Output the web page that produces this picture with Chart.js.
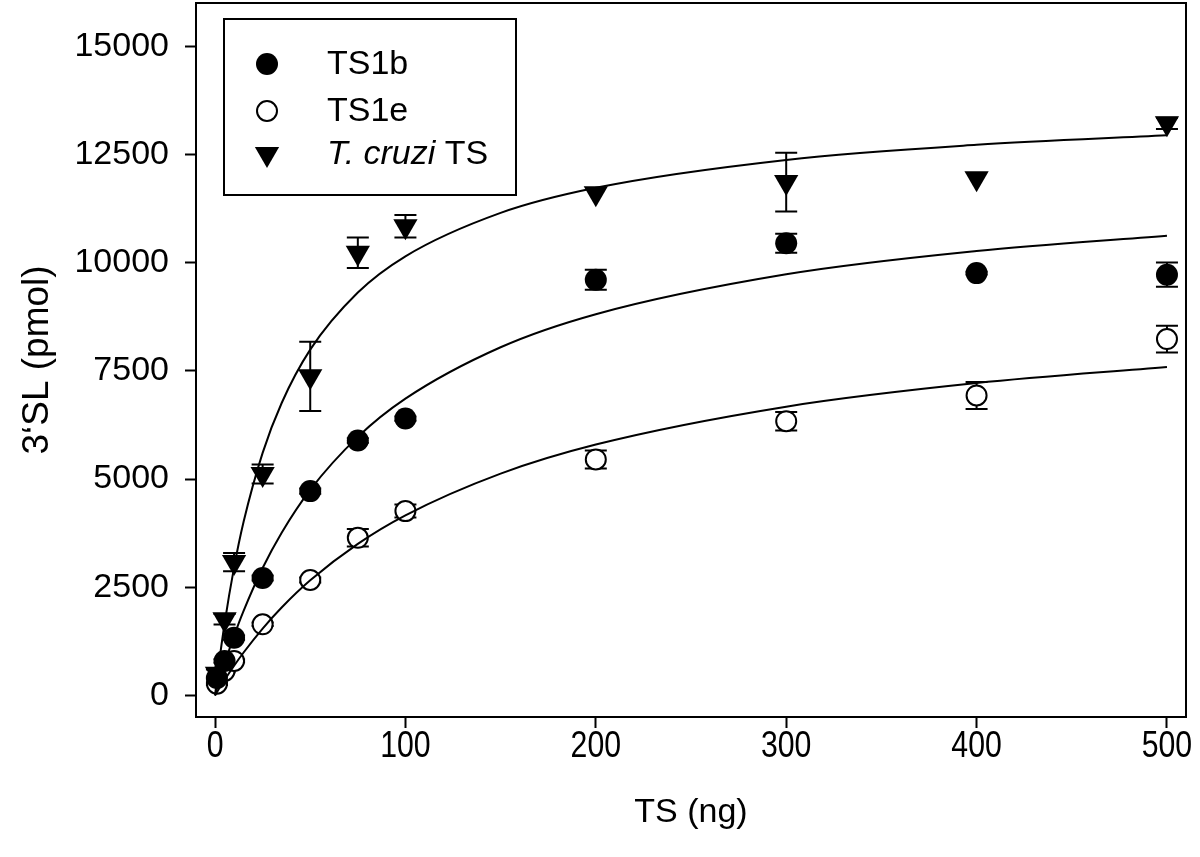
<!DOCTYPE html>
<html>
<head>
<meta charset="utf-8">
<script src="https://cdn.jsdelivr.net/npm/chart.js@4.4.0/dist/chart.umd.min.js"></script>
<style>
  html, body { margin: 0; padding: 0; background: #fff; overflow: hidden; }
  /* Chart.js keeps a fixed gap above the plot; pull the canvas up to close it */
  #chart { display: block; margin-top: -11px; }
</style>
</head>
<body>
<canvas id="chart" width="1200" height="868"></canvas>
<script>
// measured points (TS in ng, 3'SL in pmol)
const doses = [1, 5, 10, 25, 50, 75, 100, 200, 300, 400, 500];
const ts1b = [400, 796, 1334, 2712, 4720, 5890, 6397, 9605, 10450, 9758, 9721];
const ts1bErr = [30, 40, 50, 60, 60, 50, 50, 230, 220, 30, 280];
const ts1e = [270, 565, 796, 1643, 2666, 3642, 4258, 5451, 6335, 6930, 8234];
const ts1eErr = [30, 30, 30, 40, 60, 200, 150, 210, 215, 310, 310];
const cruzi = [500, 1759, 3081, 5116, 7374, 10228, 10842, 11604, 11862, 11950, 13219];
const cruziErr = [100, 120, 210, 220, 800, 350, 260, 0, 680, 0, 130];

// fitted curves
const fitX = [0, 2, 5, 10, 15, 25, 35, 50, 75, 100, 150, 200, 300, 400, 500];
const ts1bFit = [0, 302, 728, 1374, 1952, 2943, 3760, 4750, 5973, 6856, 8044, 8808, 9731, 10269, 10622];
const ts1eFit = [0, 145, 355, 684, 991, 1544, 2031, 2659, 3502, 4161, 5125, 5797, 6672, 7217, 7588];
const cruziFit = [0, 713, 1655, 2957, 4010, 5605, 6757, 7989, 9308, 10146, 11150, 11730, 12374, 12723, 12942];

const xTicks = [0, 100, 200, 300, 400, 500];
const yTicks = [0, 2500, 5000, 7500, 10000, 12500, 15000];

const FONT = "'Liberation Sans', Arial, sans-serif";
const pts = (xs, ys) => xs.map((x, i) => ({ x, y: ys[i] }));

function fitLine(data) {
  return {
    type: "line",
    data: pts(fitX, data),
    borderColor: "#000",
    borderWidth: 2,
    pointRadius: 0,
    fill: false,
    cubicInterpolationMode: "monotone",
    order: 0
  };
}

// error bars behind the markers
const errorBars = {
  id: "errorBars",
  beforeDatasetsDraw(chart) {
    const { ctx } = chart;
    const y = chart.scales.y;
    ctx.save();
    ctx.strokeStyle = "#000";
    ctx.lineWidth = 2;
    chart.data.datasets.forEach((ds, i) => {
      if (!ds.errors) return;
      chart.getDatasetMeta(i).data.forEach((el, j) => {
        const v = ds.data[j].y, e = ds.errors[j];
        if (!e) return;
        const top = y.getPixelForValue(v + e), bot = y.getPixelForValue(v - e);
        ctx.beginPath();
        ctx.moveTo(el.x, top); ctx.lineTo(el.x, bot);
        ctx.moveTo(el.x - 11, top); ctx.lineTo(el.x + 11, top);
        ctx.moveTo(el.x - 11, bot); ctx.lineTo(el.x + 11, bot);
        ctx.stroke();
      });
    });
    ctx.restore();
  }
};

function marker(ctx, style, x, y) {
  ctx.beginPath();
  if (style === "triangle") {
    const r = 14;
    ctx.moveTo(x, y + r);
    ctx.lineTo(x - r * 0.866, y - r / 2);
    ctx.lineTo(x + r * 0.866, y - r / 2);
    ctx.closePath();
    ctx.fillStyle = "#000";
    ctx.fill();
  } else if (style === "open") {
    ctx.arc(x, y, 10, 0, Math.PI * 2);
    ctx.fillStyle = "#fff";
    ctx.fill();
    ctx.lineWidth = 2;
    ctx.stroke();
  } else {
    ctx.arc(x, y, 11, 0, Math.PI * 2);
    ctx.fillStyle = "#000";
    ctx.fill();
  }
}

// frame, narrow x tick labels and the boxed legend
const frameAndLegend = {
  id: "frameAndLegend",
  afterDraw(chart) {
    const { ctx, chartArea: a } = chart;
    ctx.save();
    ctx.strokeStyle = "#000";
    ctx.lineWidth = 2;
    ctx.strokeRect(a.left, a.top, a.right - a.left, a.bottom - a.top);

    const xs = chart.scales.x;
    ctx.fillStyle = "#000";
    ctx.font = "36px " + FONT;
    ctx.textAlign = "center";
    ctx.textBaseline = "middle";
    xs.ticks.forEach(t => {
      ctx.save();
      ctx.translate(xs.getPixelForValue(t.value), a.bottom + 30);
      ctx.scale(0.84, 1);
      ctx.fillText(String(t.value), 0, 0);
      ctx.restore();
    });
    ctx.textAlign = "left";

    const bx = a.left + 28, by = a.top + 16;
    ctx.strokeRect(bx, by, 292, 176);
    const rows = [45, 92, 135];
    let r = 0;
    chart.data.datasets.forEach(ds => {
      if (!ds.legendMarker) return;
      const yy = by + rows[r++];
      marker(ctx, ds.legendMarker, bx + 43, yy);
      ctx.fillStyle = "#000";
      let tx = bx + 103;
      let rest = ds.label;
      if (ds.italicPrefix) {
        ctx.font = "italic 34px " + FONT;
        ctx.fillText(ds.italicPrefix, tx, yy + 1);
        tx += ctx.measureText(ds.italicPrefix).width;
        rest = ds.label.slice(ds.italicPrefix.length);
      }
      ctx.font = "34px " + FONT;
      ctx.fillText(rest, tx, yy + 1);
    });
    ctx.restore();
  }
};

new Chart(document.getElementById("chart"), {
  type: "scatter",
  data: {
    datasets: [
      fitLine(ts1bFit),
      fitLine(ts1eFit),
      fitLine(cruziFit),
      {
        label: "TS1b",
        legendMarker: "filled",
        data: pts(doses, ts1b),
        errors: ts1bErr,
        pointStyle: "circle",
        pointRadius: 11,
        backgroundColor: "#000",
        borderColor: "#000",
        borderWidth: 0,
        order: 1
      },
      {
        label: "TS1e",
        legendMarker: "open",
        data: pts(doses, ts1e),
        errors: ts1eErr,
        pointStyle: "circle",
        pointRadius: 10,
        backgroundColor: "#fff",
        borderColor: "#000",
        borderWidth: 2,
        order: 1
      },
      {
        label: "T. cruzi TS",
        italicPrefix: "T. cruzi",
        legendMarker: "triangle",
        data: pts(doses, cruzi),
        errors: cruziErr,
        pointStyle: "triangle",
        rotation: 180,
        pointRadius: 14,
        backgroundColor: "#000",
        borderColor: "#000",
        borderWidth: 0,
        order: 1
      }
    ]
  },
  options: {
    responsive: false,
    animation: false,
    layout: { padding: { top: 0, right: 11, left: 0, bottom: 0 } },
    plugins: {
      legend: { display: false },
      tooltip: { enabled: false }
    },
    scales: {
      x: {
        type: "linear",
        min: -10,
        max: 510,
        afterBuildTicks: s => { s.ticks = xTicks.map(v => ({ value: v })); },
        afterFit: s => { s.height = 140; s.paddingLeft = 0; s.paddingRight = 0; },
        border: { display: false },
        grid: { drawOnChartArea: false, tickLength: 11, tickWidth: 2, tickColor: "#000" },
        ticks: { display: false },
        title: { display: true, text: "TS (ng)", color: "#000", font: { family: FONT, size: 34 }, padding: { bottom: 24 } }
      },
      y: {
        min: -500,
        max: 16000,
        afterBuildTicks: s => { s.ticks = yTicks.map(v => ({ value: v })); },
        afterFit: s => { s.width = 196; s.paddingTop = 0; s.paddingBottom = 0; },
        border: { display: false },
        grid: { drawOnChartArea: false, tickLength: 11, tickWidth: 2, tickColor: "#000" },
        ticks: { color: "#000", padding: 16, font: { family: FONT, size: 34 }, callback: v => String(v) },
        title: { display: true, text: "3\u2018SL (pmol)", color: "#000", font: { family: FONT, size: 37 }, padding: { top: 16 } }
      }
    }
  },
  plugins: [errorBars, frameAndLegend]
});
</script>
</body>
</html>
